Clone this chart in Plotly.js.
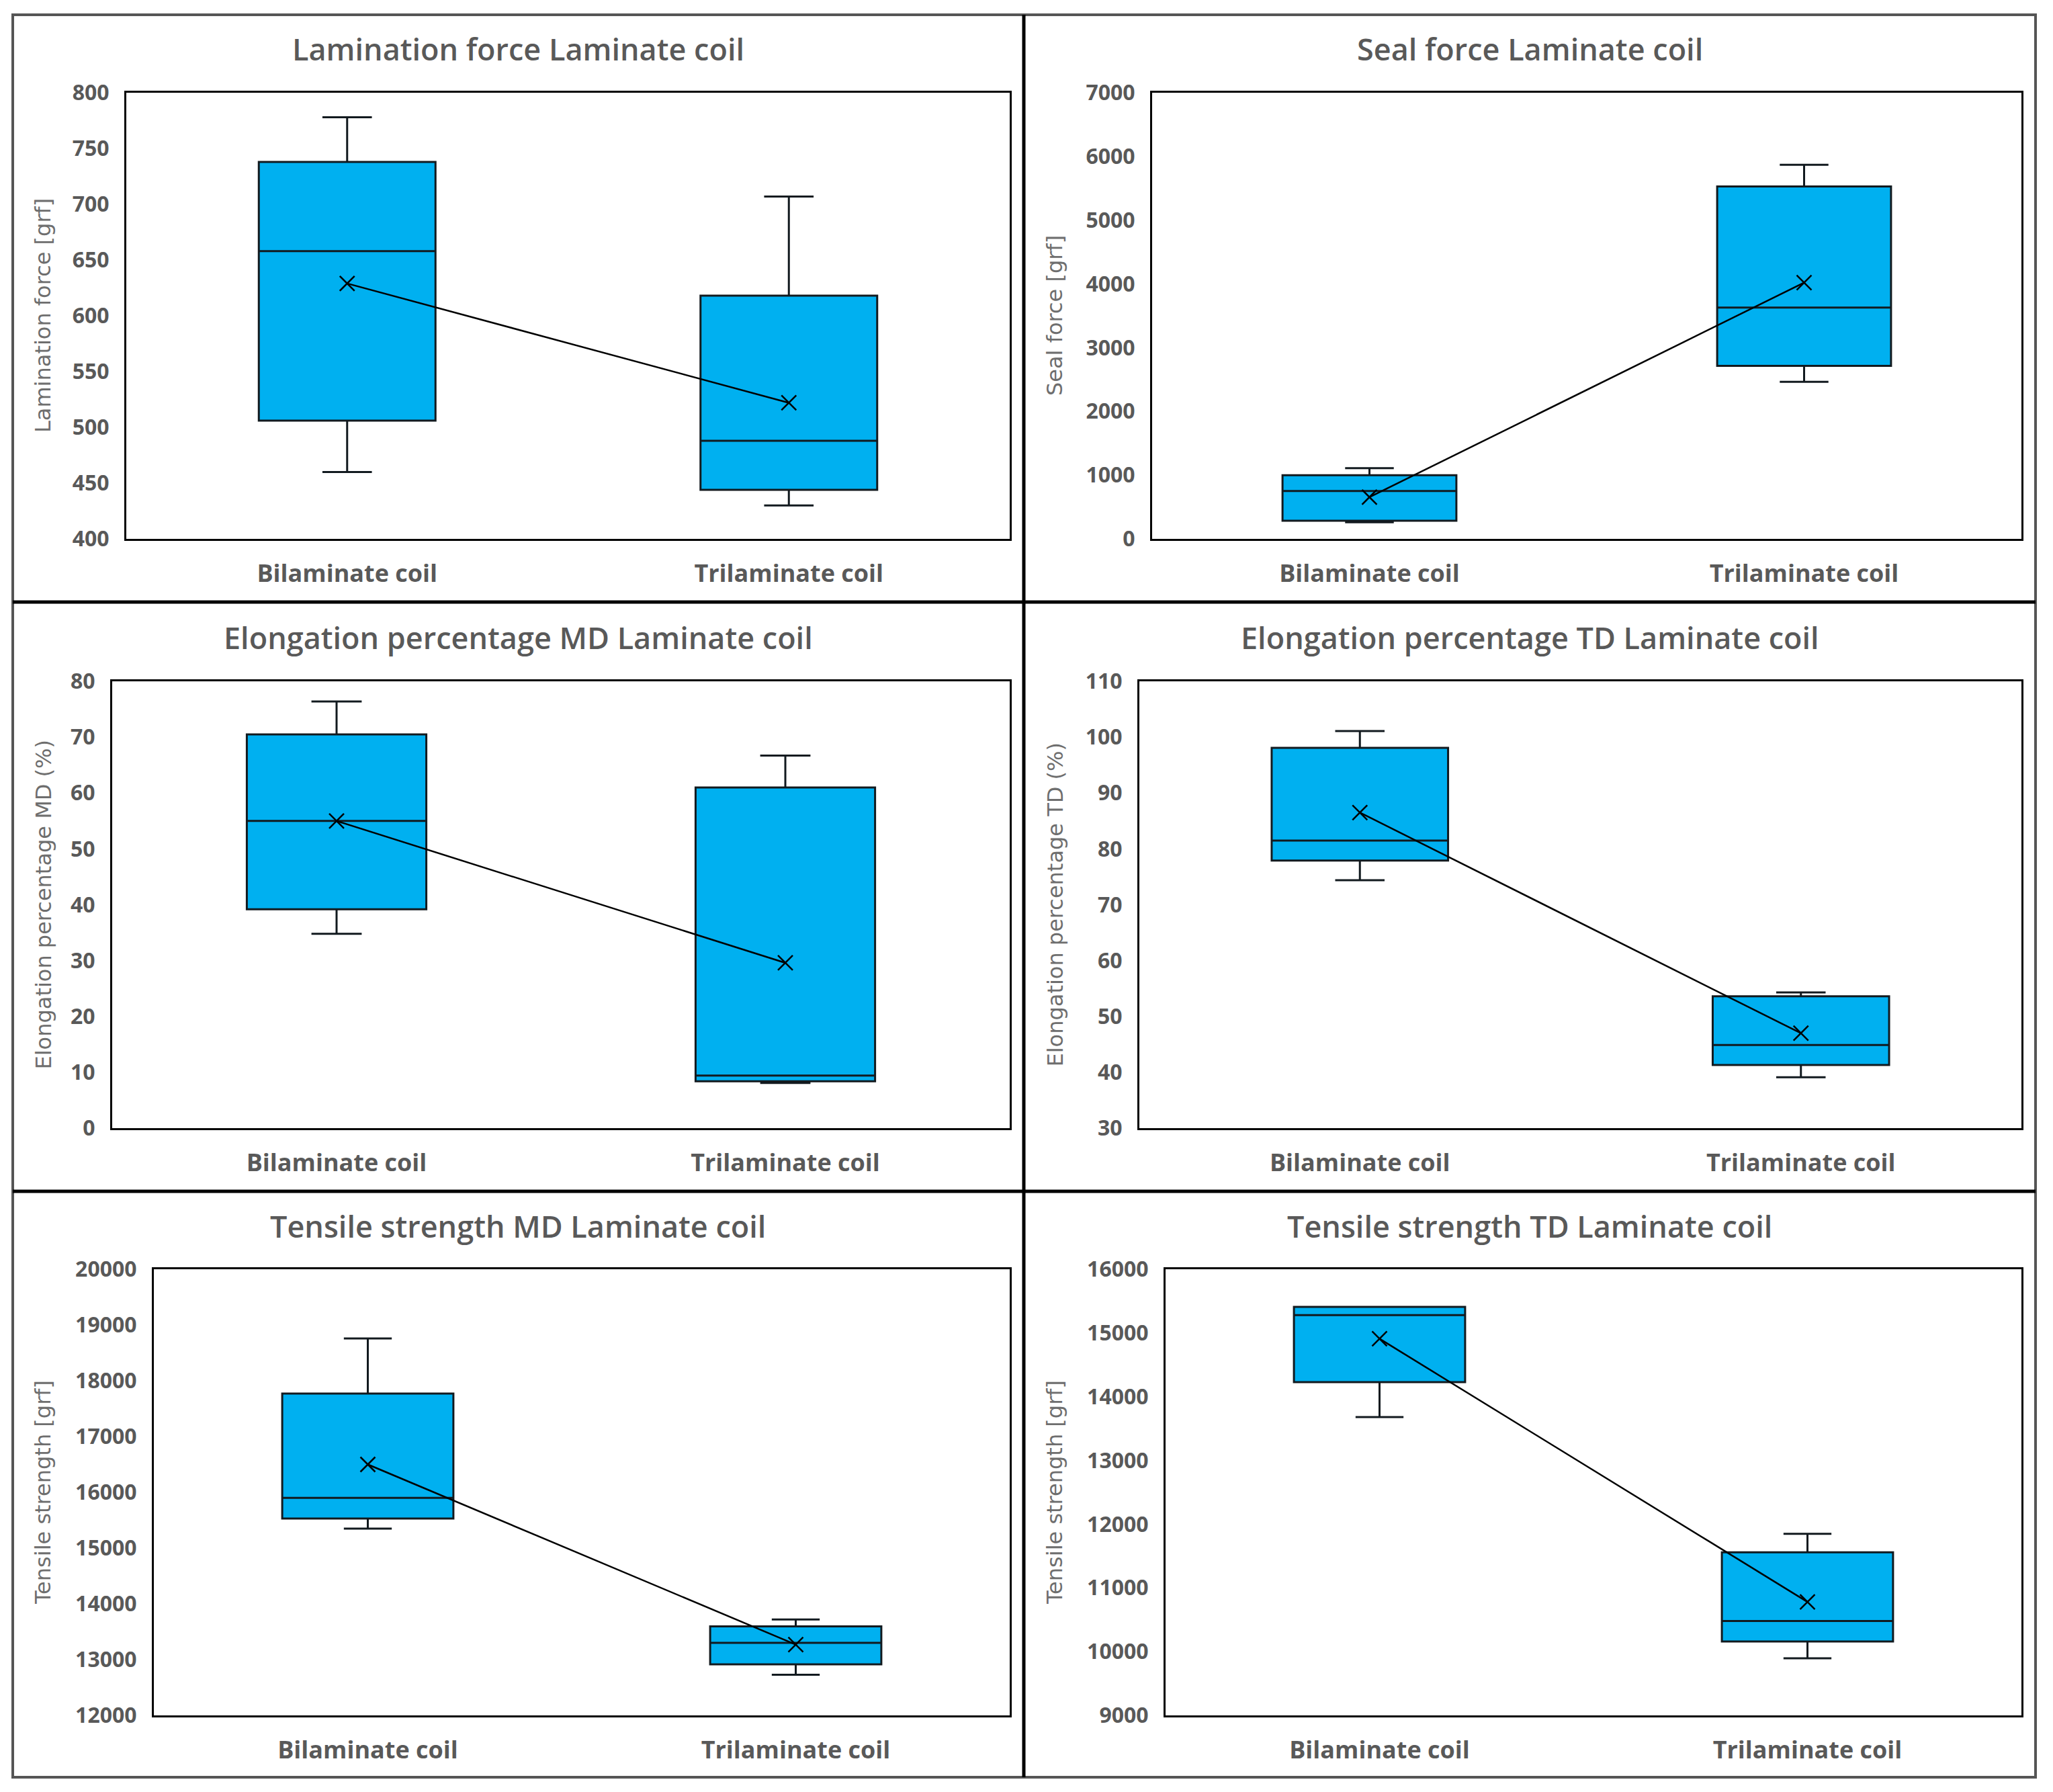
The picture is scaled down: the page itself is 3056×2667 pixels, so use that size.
<!DOCTYPE html>
<html>
<head>
<meta charset="utf-8">
<script src="https://cdn.plot.ly/plotly-3.0.1.min.js"></script>
<style>html,body{margin:0;padding:0;background:#fff;}#chart{width:3056px;height:2667px;}</style>
</head>
<body>
<div id="chart"></div>
<script>
// ---------- data ----------
const categories = ['Bilaminate coil', 'Trilaminate coil'];

const panelTitles = [
  'Lamination force Laminate coil',
  'Seal force Laminate coil',
  'Elongation percentage MD Laminate coil',
  'Elongation percentage TD Laminate coil',
  'Tensile strength MD Laminate coil',
  'Tensile strength TD Laminate coil'
];
const yTitles = [
  'Lamination force [grf]',
  'Seal force [grf]',
  'Elongation percentage MD (%)',
  'Elongation percentage TD (%)',
  'Tensile strength [grf]',
  'Tensile strength [grf]'
];

// Lamination force
const lamLower  = [460, 430];
const lamQ1     = [506, 444];
const lamMedian = [658, 488];
const lamQ3     = [738, 618];
const lamUpper  = [778, 707];
const lamMean   = [629, 522];

// Seal force
const sealLower  = [260, 2465];
const sealQ1     = [285, 2715];
const sealMedian = [750, 3630];
const sealQ3     = [1000, 5530];
const sealUpper  = [1110, 5870];
const sealMean   = [655, 4020];

// Elongation MD
const elMdLower  = [34.8, 8.1];
const elMdQ1     = [39.2, 8.4];
const elMdMedian = [55.0, 9.4];
const elMdQ3     = [70.5, 61.0];
const elMdUpper  = [76.4, 66.7];
const elMdMean   = [55.0, 29.6];

// Elongation TD
const elTdLower  = [74.4, 39.1];
const elTdQ1     = [77.9, 41.3];
const elTdMedian = [81.5, 44.9];
const elTdQ3     = [98.1, 53.6];
const elTdUpper  = [101.1, 54.3];
const elTdMean   = [86.5, 47.0];

// Tensile strength MD
const tsMdLower  = [15350, 12730];
const tsMdQ1     = [15530, 12915];
const tsMdMedian = [15900, 13300];
const tsMdQ3     = [17770, 13595];
const tsMdUpper  = [18760, 13720];
const tsMdMean   = [16500, 13270];

// Tensile strength TD
const tsTdLower  = [13680, 9895];
const tsTdQ1     = [14230, 10160];
const tsTdMedian = [15280, 10480];
const tsTdQ3     = [15410, 11560];
const tsTdUpper  = [15410, 11850];
const tsTdMean   = [14910, 10780];

// axis ranges / tick steps
const yRanges = [[400, 800], [0, 7000], [0, 80], [30, 110], [12000, 20000], [9000, 16000]];
const yDticks = [50, 1000, 10, 10, 1000, 1000];

// ---------- layout geometry (pixels) ----------
const W = 3056, H = 2667;
const px = v => v / W;
const py = v => 1 - v / H;

const plotBoxes = [
  {x0: 188,  x1: 1503, y0: 138,  y1: 802},
  {x0: 1715, x1: 3009, y0: 138,  y1: 802},
  {x0: 167,  x1: 1503, y0: 1014, y1: 1679},
  {x0: 1696, x1: 3009, y0: 1014, y1: 1679},
  {x0: 229,  x1: 1503, y0: 1889, y1: 2553},
  {x0: 1735, x1: 3009, y0: 1889, y1: 2553}
];
const titlePos = [
  {x: 771, y: 73}, {x: 2277, y: 73},
  {x: 771, y: 949}, {x: 2277, y: 949},
  {x: 771, y: 1824}, {x: 2277, y: 1824}
];
const yTitleX = [64, 1570, 64, 1570, 64, 1570];

const series = [
  [lamLower, lamQ1, lamMedian, lamQ3, lamUpper, lamMean],
  [sealLower, sealQ1, sealMedian, sealQ3, sealUpper, sealMean],
  [elMdLower, elMdQ1, elMdMedian, elMdQ3, elMdUpper, elMdMean],
  [elTdLower, elTdQ1, elTdMedian, elTdQ3, elTdUpper, elTdMean],
  [tsMdLower, tsMdQ1, tsMdMedian, tsMdQ3, tsMdUpper, tsMdMean],
  [tsTdLower, tsTdQ1, tsTdMedian, tsTdQ3, tsTdUpper, tsTdMean]
];

const gray = '#595959';
const traces = [];
const layout = {
  width: W, height: H,
  margin: {l: 0, r: 0, t: 0, b: 0},
  paper_bgcolor: '#ffffff',
  plot_bgcolor: '#ffffff',
  showlegend: false,
  annotations: [],
  shapes: []
};

series.forEach((s, i) => {
  const n = i + 1;
  const xa = 'x' + (n === 1 ? '' : n);
  const ya = 'y' + (n === 1 ? '' : n);
  const [lo, q1, med, q3, up, mean] = s;

  traces.push({
    type: 'box', x: categories,
    lowerfence: lo, q1: q1, median: med, q3: q3, upperfence: up, mean: mean,
    boxmean: false, boxpoints: false,
    width: 0.4, whiskerwidth: 0.28,
    fillcolor: '#00B0F0',
    line: {color: '#121a1f', width: 3},
    xaxis: xa, yaxis: ya, hoverinfo: 'skip', showlegend: false
  });
  traces.push({
    type: 'scatter', mode: 'lines+markers', x: categories, y: mean,
    line: {color: '#000000', width: 2.5},
    marker: {symbol: 'x-thin', size: 22, color: '#000000', line: {color: '#000000', width: 2.5}},
    xaxis: xa, yaxis: ya, hoverinfo: 'skip', showlegend: false, cliponaxis: false
  });

  const b = plotBoxes[i];
  layout['xaxis' + (n === 1 ? '' : n)] = {
    domain: [px(b.x0), px(b.x1)], anchor: ya,
    type: 'category', range: [-0.5, 1.5],
    showline: true, mirror: true, linecolor: '#000000', linewidth: 3,
    showgrid: false, zeroline: false, ticks: '',
    tickfont: {family: 'Open Sans', size: 36, color: gray, weight: 700},
    ticklabelstandoff: 18, fixedrange: true
  };
  layout['yaxis' + (n === 1 ? '' : n)] = {
    domain: [py(b.y1), py(b.y0)], anchor: xa,
    range: yRanges[i], tick0: yRanges[i][0], dtick: yDticks[i],
    tickformat: 'd',
    showline: true, mirror: true, linecolor: '#000000', linewidth: 3,
    showgrid: false, zeroline: false, ticks: '',
    tickfont: {family: 'Open Sans', size: 32, color: gray, weight: 700},
    ticklabelstandoff: 16, fixedrange: true
  };

  layout.annotations.push({
    xref: 'paper', yref: 'paper', x: px(titlePos[i].x), y: py(titlePos[i].y),
    xanchor: 'center', yanchor: 'middle', showarrow: false,
    text: panelTitles[i],
    font: {family: 'Open Sans', size: 45, color: gray, weight: 600}
  });
  layout.annotations.push({
    xref: 'paper', yref: 'paper', x: px(yTitleX[i]), y: py((b.y0 + b.y1) / 2),
    xanchor: 'center', yanchor: 'middle', showarrow: false, textangle: -90,
    text: yTitles[i],
    font: {family: 'DejaVu Sans', size: 32, color: '#6e6e6e'}
  });
});

// panel frame
layout.shapes.push({type: 'rect', xref: 'paper', yref: 'paper',
  x0: px(19), x1: px(3030), y0: py(2645), y1: py(22),
  line: {color: '#555555', width: 4}});
layout.shapes.push({type: 'line', xref: 'paper', yref: 'paper',
  x0: px(1524), x1: px(1524), y0: py(2645), y1: py(22),
  line: {color: '#000000', width: 5}});
[896, 1773].forEach(yy => layout.shapes.push({type: 'line', xref: 'paper', yref: 'paper',
  x0: px(19), x1: px(3030), y0: py(yy), y1: py(yy),
  line: {color: '#000000', width: 5}}));

Plotly.newPlot('chart', traces, layout, {staticPlot: true, displayModeBar: false});
</script>
</body>
</html>
